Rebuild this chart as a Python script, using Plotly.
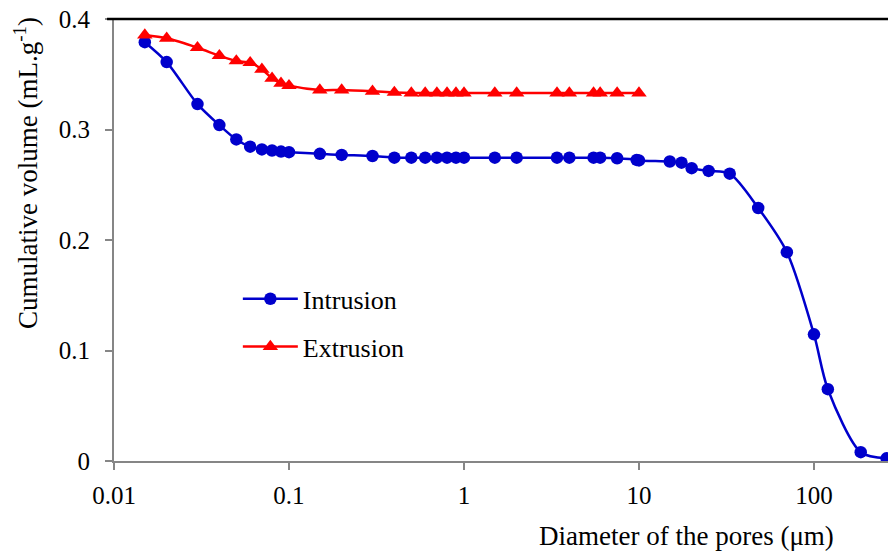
import plotly.graph_objects as go

# Diameter of the pores (µm)
intrusion_x = [0.015, 0.02, 0.03, 0.04, 0.05, 0.06, 0.07, 0.08, 0.09, 0.1,
               0.15, 0.2, 0.3, 0.4, 0.5, 0.6, 0.7, 0.8, 0.9, 1.0,
               1.5, 2.0, 3.4, 4.0, 5.5, 6.0, 7.5, 9.7, 10.0, 15.0,
               17.5, 20.0, 25.0, 33.0, 48.0, 70.0, 100.0, 120.0, 185.0, 260.0]
# Cumulative volume (mL/g)
intrusion_y = [0.379, 0.361, 0.323, 0.304, 0.291, 0.2845, 0.282, 0.281, 0.280, 0.2795,
               0.278, 0.277, 0.276, 0.2745, 0.2745, 0.2745, 0.2745, 0.2745, 0.2745, 0.2745,
               0.2745, 0.2745, 0.2745, 0.2745, 0.2745, 0.2745, 0.274, 0.2725, 0.272, 0.271,
               0.270, 0.265, 0.2625, 0.260, 0.229, 0.189, 0.1146, 0.065, 0.008, 0.0024]

extrusion_x = [0.015, 0.02, 0.03, 0.04, 0.05, 0.06, 0.07, 0.08, 0.09, 0.1,
               0.15, 0.2, 0.3, 0.4, 0.5, 0.6, 0.7, 0.8, 0.9, 1.0,
               1.5, 2.0, 3.4, 4.0, 5.5, 6.0, 7.5, 10.0]
extrusion_y = [0.3855, 0.3825, 0.374, 0.3668, 0.362, 0.3605, 0.3545, 0.3463, 0.3418, 0.3397,
               0.3357, 0.3357, 0.3346, 0.3335, 0.333, 0.333, 0.333, 0.333, 0.333, 0.333,
               0.333, 0.333, 0.333, 0.333, 0.333, 0.333, 0.333, 0.333]

x_tick_vals = [0.01, 0.1, 1, 10, 100]
x_tick_text = ["0.01", "0.1", "1", "10", "100"]
y_tick_vals = [0, 0.1, 0.2, 0.3, 0.4]
y_tick_text = ["0", "0.1", "0.2", "0.3", "0.4"]

FONT = "Liberation Serif, Times New Roman, serif"
BLUE = "#0000CC"
RED = "#FF0000"
AXIS = "#868686"

fig = go.Figure()
fig.add_trace(go.Scatter(
    x=intrusion_x, y=intrusion_y, name="Intrusion", mode="lines+markers",
    line=dict(color=BLUE, width=2.5, shape="spline", smoothing=0.8),
    marker=dict(symbol="circle", size=12.5, color=BLUE),
    legendgroup="a",
))
fig.add_trace(go.Scatter(
    x=extrusion_x, y=extrusion_y, name="Extrusion", mode="lines+markers",
    line=dict(color=RED, width=2.5, shape="spline", smoothing=0.8),
    marker=dict(symbol="triangle-up", size=13.5, color=RED),
    legendgroup="b",
))

fig.update_layout(
    width=888, height=551,
    margin=dict(l=114, r=0, t=19, b=90),
    paper_bgcolor="white", plot_bgcolor="white",
    font=dict(family=FONT, size=25, color="black"),
    showlegend=True,
    legend=dict(
        x=0.16, y=0.42, xanchor="left", yanchor="top",
        bgcolor="rgba(0,0,0,0)", font=dict(family=FONT, size=26),
        tracegroupgap=11, itemwidth=55,
    ),
    xaxis=dict(
        type="log", range=[-2, 2.423],
        tickmode="array", tickvals=x_tick_vals, ticktext=x_tick_text,
        showgrid=False, zeroline=False,
        showline=True, linecolor=AXIS, linewidth=2,
        ticks="outside", ticklen=7, tickcolor=AXIS, tickwidth=1.5,
        tickfont=dict(family=FONT, size=25, color="black"),
        ticklabelstandoff=4,
    ),
    yaxis=dict(
        range=[0, 0.4],
        tickmode="array", tickvals=y_tick_vals, ticktext=y_tick_text,
        showgrid=False, zeroline=False,
        showline=True, linecolor=AXIS, linewidth=2,
        ticks="outside", ticklen=7, tickcolor=AXIS, tickwidth=1.5,
        tickfont=dict(family=FONT, size=25, color="black"),
        ticklabelstandoff=10,
    ),
    shapes=[dict(type="line", xref="paper", yref="paper", x0=-0.009, x1=1, y0=1, y1=1,
                 line=dict(color="black", width=2.5))],
    annotations=[
        dict(text="Cumulative volume (mL.g<sup>-1</sup>)", textangle=-90,
             xref="paper", yref="paper", x=(26 - 114) / 774, y=(461 - 173) / 442,
             xanchor="center", yanchor="middle", showarrow=False,
             font=dict(family=FONT, size=27, color="black")),
        dict(text="Diameter of the pores (μm)",
             xref="paper", yref="paper", x=(686 - 114) / 774, y=(461 - 536) / 442,
             xanchor="center", yanchor="middle", showarrow=False,
             font=dict(family=FONT, size=27, color="black")),
    ],
)

fig.write_html("out.html",
               config={"displayModeBar": False},
               post_script="document.body.style.margin='0px';document.body.style.overflow='hidden';")
